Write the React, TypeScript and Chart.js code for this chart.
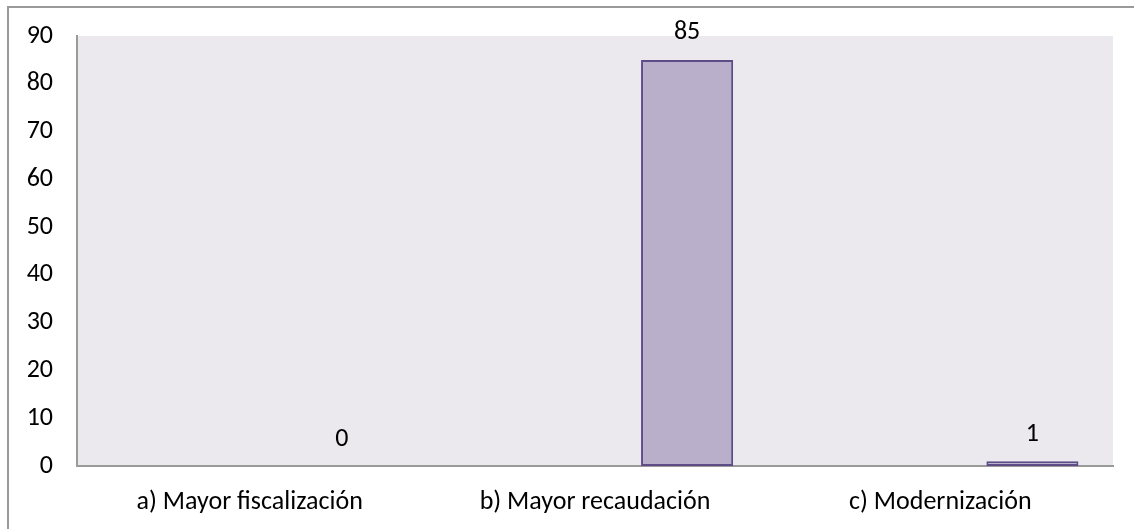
import React, { useEffect, useRef } from "react";
import { Chart, registerables } from "chart.js";

Chart.register(...registerables);

const categories = ["a) Mayor fiscalización", "b) Mayor recaudación", "c) Modernización"];
const values = [0, 85, 1];
const yTicks = [0, 10, 20, 30, 40, 50, 60, 70, 80, 90];

const FONT = "Carlito, Lato, sans-serif";
const FONT_SIZE = 26;
const CAT_FONT_SIZE = 26;

const bgPlugin = {
  id: "bgPlugin",
  beforeDraw(chart: any) {
    const { ctx, chartArea } = chart;
    ctx.save();
    ctx.fillStyle = "#ffffff";
    ctx.fillRect(0, 0, chart.width, chart.height);
    ctx.fillStyle = "#EBE8EE";
    ctx.fillRect(chartArea.left, chartArea.top, chartArea.right - chartArea.left, chartArea.bottom - chartArea.top);
    ctx.strokeStyle = "#9a9a9a";
    ctx.lineWidth = 2;
    ctx.beginPath();
    ctx.moveTo(8, chart.height);
    ctx.lineTo(8, 7);
    ctx.lineTo(chart.width, 7);
    ctx.stroke();
    ctx.restore();
  },
};

const labelPlugin = {
  id: "labelPlugin",
  afterDatasetsDraw(chart: any) {
    const { ctx } = chart;
    const meta = chart.getDatasetMeta(2);
    ctx.save();
    ctx.font = `${FONT_SIZE}px ${FONT}`;
    ctx.fillStyle = "#000000";
    ctx.textAlign = "center";
    ctx.textBaseline = "middle";
    meta.data.forEach((bar: any, i: number) => {
      ctx.fillText(String(values[i]), bar.x, bar.y - 27);
    });
    ctx.restore();
  },
};

export default function App() {
  const ref = useRef<HTMLCanvasElement>(null);
  useEffect(() => {
    if (!ref.current) return;
    const chart = new Chart(ref.current, {
      type: "bar",
      data: {
        labels: categories,
        datasets: [
          { label: "s1", data: categories.map(() => null) },
          { label: "s2", data: categories.map(() => null) },
          {
            label: "s3",
            data: values,
            backgroundColor: "#B9AFCA",
            borderColor: "#5E4C87",
            borderWidth: 2,
            borderSkipped: false,
          },
        ],
      },
      options: {
        responsive: false,
        animation: false,
        maintainAspectRatio: false,
        layout: { padding: { left: 0, right: 21, top: 36, bottom: 0 } },
        datasets: { bar: { categoryPercentage: 0.8, barPercentage: 1.0 } },
        plugins: { legend: { display: false }, tooltip: { enabled: false } },
        scales: {
          x: {
            grid: { display: false, drawTicks: false },
            border: { display: true, color: "#9a9a9a", width: 2 },
            ticks: { color: "#000", font: { family: FONT, size: CAT_FONT_SIZE }, padding: 21, maxRotation: 0 },
            afterFit(scale: any) {
              scale.height = 63;
              scale.paddingLeft = 0;
              scale.paddingRight = 0;
            },
          },
          y: {
            min: 0,
            max: 90,
            grid: { display: false, drawTicks: false },
            border: { display: true, color: "#9a9a9a", width: 2 },
            afterBuildTicks(scale: any) { scale.ticks = yTicks.map((v) => ({ value: v })); },
            ticks: { color: "#000", font: { family: FONT, size: FONT_SIZE }, padding: 24 },
            afterFit(scale: any) {
              scale.width = 77;
              scale.paddingTop = 0;
              scale.paddingBottom = 0;
            },
          },
        },
      },
      plugins: [bgPlugin, labelPlugin],
    });
    return () => chart.destroy();
  }, []);
  return (
    <div style={{ position: "fixed", left: 0, top: 0, width: 1134, height: 529 }}>
      <canvas ref={ref} width={1134} height={529} style={{ display: "block" }} />
    </div>
  );
}
